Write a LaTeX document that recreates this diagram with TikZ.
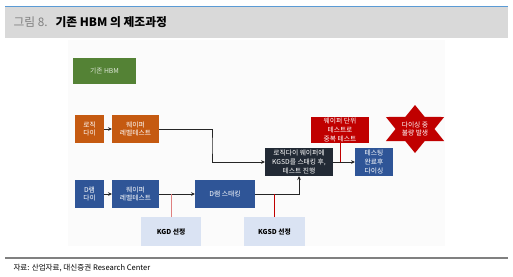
\documentclass[tikz,border=0pt]{standalone}
\usepackage{fontspec}
\setmainfont{Noto Sans CJK KR}
\usetikzlibrary{arrows.meta,positioning,calc}
\definecolor{cgrn}{HTML}{548235}
\definecolor{corg}{HTML}{C55A11}
\definecolor{cblu}{HTML}{2F5597}
\definecolor{cdrk}{HTML}{222A35}
\definecolor{cred}{HTML}{C00000}
\definecolor{clav}{HTML}{DAE3F3}
\definecolor{cbar}{HTML}{D9D9D9}
\definecolor{cline}{HTML}{5B9BD5}
\newcommand{\boxfont}{\fontsize{6.8}{8.9}\selectfont}

\begin{document}
\begin{tikzpicture}[x=1bp,y=-1bp,
  box/.style={inner sep=0pt,outer sep=0pt,align=center,text=white,font=\boxfont,minimum height=28bp},
  sel/.style={box,fill=clav,text=black,font=\boxfont\bfseries,minimum height=29bp},
  arr/.style={-{Stealth[length=4bp,width=3.6bp]},line width=.8bp,black!85},
  tie/.style={line width=.9bp,cred},node distance=8bp]
  \useasboundingbox (0,0) rectangle (513,276);
  % title bar
  \fill[cbar] (5,6) rectangle (508,38);
  \draw[cline,line width=1bp] (5,6) -- (508,6);
  \node[anchor=west,font=\fontsize{11.8}{13}\selectfont] (ttl) at (10,22.5)
    {\textcolor{black!50}{그림 8.}\hspace{8bp}\textbf{기존 HBM 의 제조과정}};
  \fill[black!1.5] (68,40) rectangle (445,246);
  % process boxes
  \node[box,fill=cgrn,text=white!80!cgrn,minimum width=63bp,minimum height=26bp] (hbm) at (104.5,71) {기존 HBM};
  \node[box,fill=corg,minimum width=29bp] (lg) at (89.5,129) {로직\\다이};
  \node[box,fill=corg,minimum width=47bp,right=of lg] (lw) {웨이퍼\\레벨테스트};
  \node[box,fill=cblu,minimum width=29bp] (dd) at (89.5,194) {D램\\다이};
  \node[box,fill=cblu,minimum width=47bp,right=of dd] (dw) {웨이퍼\\레벨테스트};
  \node[box,fill=cblu,minimum width=60bp,right=36bp of dw] (ds) {D램 스태킹};
  \node[sel,minimum width=60bp] (kgd) at (171,231.5) {KGD 선정};
  \node[sel,minimum width=61bp] (kgsd) at (274.5,231.5) {KGSD 선정};
  \node[box,fill=cdrk,minimum width=68bp] (stk) at (299,162) {로직다이 웨이퍼에\\KGSD를 스태킹 후,\\테스트 진행};
  \node[box,fill=cred,minimum width=58bp,minimum height=26bp] (dup) at (340,130) {웨이퍼 단위\\테스트로\\중복 테스트};
  \node[box,fill=cblu,minimum width=38bp,right=22bp of stk] (dc) {테스팅\\완료후\\다이싱};
  % star
  \coordinate (st) at (415,129);
  \fill[cred,shift={(st)},xscale=1.4] (90:24)
    \foreach \a in {30,-30,-90,-150,-210}{ -- (\a+30:13.9) -- (\a:24)} -- (120:13.9) -- cycle;
  \node[box,minimum height=0pt] (bad) at (st) {다이싱 중\\불량 발생};
  % connectors
  \draw[arr] (lg) -- (lw);
  \draw[arr] (lw.east) -| ($(lw.east)!.5!(stk.west)$) |- (stk.west);
  \draw[arr] (dd) -- (dw);
  \draw[arr] (dw) -- (ds);
  \draw[arr] (ds) -| (stk);
  \draw[arr] (stk) -- (dc);
  \draw[tie,cred!50] (kgd) -- (kgd |- dw);
  \draw[tie] (kgsd) -- (kgsd |- ds);
  \draw[tie] (dup) -- (dup |- stk);
  % source
  \draw[black!50,line width=1.2bp] (5,258) -- (508,258);
  \node[anchor=west,font=\fontsize{7.6}{9}\selectfont] (src) at (10,268) {자료: 산업자료, 대신증권 Research Center};
\end{tikzpicture}
\end{document}
